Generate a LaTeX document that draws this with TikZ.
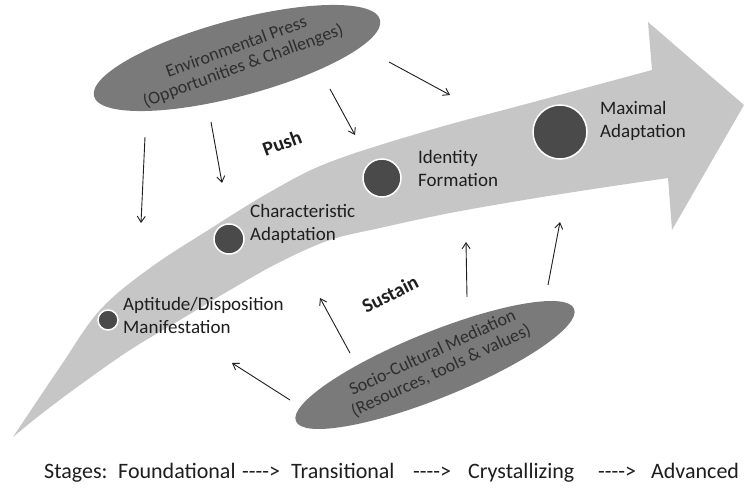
\documentclass[tikz,border=0pt]{standalone}
\usepackage{fontspec}
\setmainfont{Carlito}
\usetikzlibrary{shapes.geometric,arrows.meta}
\definecolor{bandgray}{HTML}{C6C6C6}
\definecolor{ellgray}{HTML}{7A7A7A}
\definecolor{dotgray}{HTML}{4A4A4A}
\definecolor{ink}{HTML}{1E1E1E}
\definecolor{ovalink}{HTML}{2E2E2E}
\begin{document}
\begin{tikzpicture}[x=1pt,y=-1pt,
  lab/.style={anchor=north west, align=left, inner sep=0pt, text=ink, font=\fontsize{19}{23}\selectfont},
  stagedot/.style={circle, fill=dotgray, draw=white, line width=1.5pt, inner sep=0pt},
  oval/.style={ellipse, fill=ellgray, inner sep=0pt},
  ovaltext/.style={align=center, text=ovalink, font=\fontsize{18}{20}\selectfont, inner sep=0pt},
  force/.style={font=\bfseries\fontsize{20}{24}\selectfont, text=ink, inner sep=0pt},
  link/.style={draw=ink, line width=0.9pt, -{Straight Barb[length=6pt,width=8pt]}},
  stagetxt/.style={anchor=base west, inner sep=0pt, text=ink, font=\fontsize{22}{26}\selectfont}]
\fill[white] (0,0) rectangle (745,497);
\useasboundingbox (0,0) rectangle (745,497);
% big curved arrow
\fill[bandgray] plot[smooth, tension=0.6] coordinates {(13,437) (60,367) (100,310) (150,268) (210,229) (270,192) (330,162) (430,130) (530,103) (652,70)}
  -- (648,22) -- (744,105) -- (672,230) -- (668,178)
  -- plot[smooth, tension=0.6] coordinates {(668,178) (600,188) (530,199) (450,213) (380,228) (330,240) (280,262) (230,290) (180,320) (130,350) (80,385) (40,415) (13,437)} -- cycle;
% ellipses
\node[oval, minimum width=296pt, minimum height=76pt, rotate=15] (env) at (237,58) {};
\node[ovaltext, rotate=20] (envtxt) at (240,57) {Environmental Press\\(Opportunities \& Challenges)};
\node[oval, minimum width=300pt, minimum height=66pt, rotate=22] (socio) at (435,365) {};
\node[ovaltext, rotate=25] (sociotxt) at (437,362) {Socio-Cultural Mediation\\(Resources, tools \& values)};
% stage dots
\node[stagedot, minimum size=20pt] (d1) at (108,320) {};
\node[stagedot, minimum size=30pt] (d2) at (229,239) {};
\node[stagedot, minimum size=38pt] (d3) at (382,178) {};
\node[stagedot, minimum size=54pt] (d4) at (560,132) {};
% labels
\node[lab] (l1) at (123,297) {Aptitude/Disposition\\Manifestation};
\node[lab] (l2) at (250,204) {Characteristic\\Adaptation};
\node[lab] (l3) at (418,150) {Identity\\Formation};
\node[lab] (l4) at (600,101) {Maximal\\Adaptation};
\node[force, rotate=20] (push) at (282,143) {Push};
\node[force, rotate=27] (sustain) at (390,294) {Sustain};
% connector endpoints
\coordinate (p1s) at (145,137); \coordinate (p1e) at (141,223);
\coordinate (p2s) at (211,122); \coordinate (p2e) at (222,183);
\coordinate (p3s) at (330,89);  \coordinate (p3e) at (355,135);
\coordinate (p4s) at (389,62);  \coordinate (p4e) at (450,95);
\coordinate (s1s) at (290,400); \coordinate (s1e) at (232,363);
\coordinate (s2s) at (350,353); \coordinate (s2e) at (320,298);
\coordinate (s3s) at (467,297); \coordinate (s3e) at (466,242);
\coordinate (s4s) at (548,285); \coordinate (s4e) at (560,222);
\draw[link] (p1s) -- (p1e);
\draw[link] (p2s) -- (p2e);
\draw[link] (p3s) -- (p3e);
\draw[link] (p4s) -- (p4e);
\draw[link] (s1s) -- (s1e);
\draw[link] (s2s) -- (s2e);
\draw[link] (s3s) -- (s3e);
\draw[link] (s4s) -- (s4e);
% stages line
\node[stagetxt] (t0) at (44,478) {Stages:};
\node[stagetxt] (t1) at (118,478) {Foundational};
\node[stagetxt] (t2) at (242,478) {-{}-{}-{}->};
\node[stagetxt] (t3) at (291,478) {Transitional};
\node[stagetxt] (t4) at (413,478) {-{}-{}-{}->};
\node[stagetxt] (t5) at (468,478) {Crystallizing};
\node[stagetxt] (t6) at (598,478) {-{}-{}-{}->};
\node[stagetxt] (t7) at (651,478) {Advanced};
\end{tikzpicture}
\end{document}
